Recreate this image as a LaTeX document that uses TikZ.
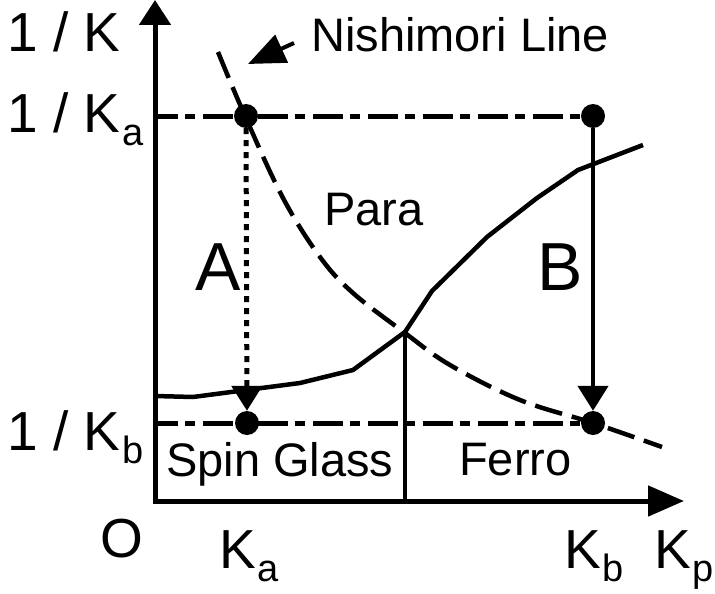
\documentclass[tikz,border=0pt]{standalone}
\usepackage{fontspec}
\setmainfont{Liberation Sans}
\usetikzlibrary{arrows.meta}
\newcommand\myfs[1]{\fontsize{#1}{#1}\selectfont}
\newcommand\mysb[1]{\kern2pt\raisebox{-13pt}{\myfs{38}#1}}
\begin{document}
\begin{tikzpicture}[x=1pt,y=-1pt,
  lbl/.style={inner sep=0pt, anchor=base west, font={\myfs{55}}},
  reg/.style={inner sep=0pt, anchor=base west, font={\myfs{47}}},
  big/.style={inner sep=0pt, anchor=base west, font={\myfs{68}}},
  dotnode/.style={circle, fill=black, inner sep=0pt, minimum size=24pt},
  axisline/.style={line width=5pt, line join=miter},
  phase/.style={line width=4.5pt, line join=round},
  dashdot/.style={line width=5pt, dash pattern=on 30pt off 7pt on 10pt off 8pt, dash phase=7pt},
  nish/.style={line width=4.5pt, dash pattern=on 28pt off 10pt},
  dotted5/.style={line width=5pt, dash pattern=on 6pt off 6pt},
  bigtip/.style={-{Triangle[length=25pt,width=30pt]}}
]
\useasboundingbox (0,0) rectangle (715,594);

% axes
\coordinate (O) at (155,501);
\coordinate (yend) at (155,0);
\coordinate (xend) at (684,501);
\draw[axisline, {Triangle[length=25pt,width=31pt]}-{Triangle[length=36pt,width=30pt]}] (yend) -- (O) -- (xend);

% dots
\node[dotnode] (pa1) at (246,116) {};
\node[dotnode] (pa2) at (247,423) {};
\node[dotnode] (pb1) at (593,116) {};
\node[dotnode] (pb2) at (593,423) {};

% dash-dot levels
\coordinate (ka) at (155,116);
\coordinate (kb) at (155,423);
\draw[dashdot] (ka) -- (pb1.center);
\draw[dashdot] (kb) -- (pb2.center);

% phase boundary
\coordinate (tc) at (405,332);
\draw[phase] (155,396) -- (193,397) -- (300,383) -- (353,370) -- (tc) -- (432,291) -- (487,237) -- (537,198) -- (578,170) -- (643,145);
\coordinate (tcb) at (405,501);
\draw[phase] (tc) -- (tcb);

% Nishimori line
\draw[nish] plot[smooth, tension=0.6] coordinates {(218,52) (245,116) (283,198) (320,257) (353,293) (405,333) (450,365) (520,400) (593,423) (662,447)};

% arrows A and B
\draw[dotted5, bigtip] (pa1) -- (pa2);
\draw[line width=4.5pt, bigtip] (pb1) -- (pb2);

% Nishimori pointer
\coordinate (nlTail) at (294,43);
\coordinate (nlTip) at (248,64);
\draw[line width=4pt, -{Triangle[length=37pt,width=30pt]}] (nlTail) -- (nlTip);

% labels
\node[lbl] (l1) at (7,52) {1 / K};
\node[lbl] (l2) at (7,132) {1 / K\mysb{a}};
\node[lbl] (l3) at (7,450) {1 / K\mysb{b}};
\node[lbl] (lO) at (100,557) {O};
\node[lbl] (lka) at (219,568) {K\mysb{a}};
\node[lbl] (lkb) at (564,568) {K\mysb{b}};
\node[lbl] (lkp) at (654,568) {K\mysb{p}};
\node[reg] (nl) at (311,52) {Nishimori Line};
\node[reg] (para) at (324,225) {Para};
\node[reg] (sg) at (166,476) {Spin Glass};
\node[reg] (fe) at (459,475) {Ferro};
\node[big] (la) at (195,290) {A};
\node[big] (lb) at (537,290) {B};
\end{tikzpicture}
\end{document}
